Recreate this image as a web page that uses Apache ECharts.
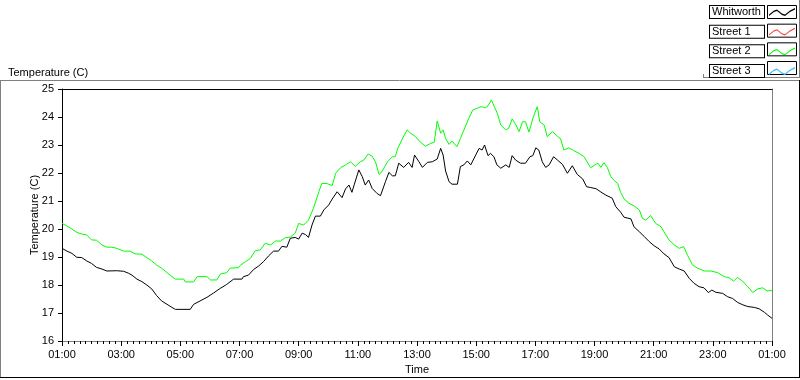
<!DOCTYPE html>
<html>
<head>
<meta charset="utf-8">
<script src="https://cdn.jsdelivr.net/npm/echarts@6/dist/echarts.min.js"></script>
<style>
html,body{margin:0;padding:0;background:#fff;}
#chart{width:800px;height:380px;}
</style>
</head>
<body>
<div id="chart"></div>
<script>
// Minutes since 01:00 and temperatures (C)
var whitworthTimes = [0,10,20,30,40,50,60,70,81,91,111,125,135,142,152,162,172,182,192,202,213,223,230,260,267,280,294,307,321,334,348,365,368,378,389,399,409,419,429,439,446,456,463,473,480,487,494,500,507,514,524,531,541,548,558,568,575,582,588,593,602,609,615,622,629,639,646,656,663,670,676,683,693,703,710,715,724,731,741,751,761,768,773,778,785,791,802,808,815,822,829,833,839,846,852,857,864,869,876,882,890,900,907,913,920,930,940,949,955,961,967,974,981,988,997,1005,1015,1025,1035,1045,1056,1064,1072,1083,1093,1103,1116,1123,1133,1140,1154,1160,1171,1181,1191,1201,1211,1221,1231,1242,1252,1262,1272,1282,1292,1302,1311,1318,1326,1340,1350,1360,1370,1381,1391,1404,1414,1425,1431,1440];
var whitworthTemps = [19.31,19.21,19.13,18.99,18.98,18.86,18.77,18.63,18.57,18.50,18.51,18.49,18.42,18.35,18.21,18.12,18.00,17.86,17.62,17.43,17.31,17.20,17.13,17.13,17.31,17.43,17.56,17.71,17.88,18.02,18.21,18.21,18.30,18.35,18.56,18.68,18.84,19.04,19.21,19.21,19.38,19.35,19.67,19.70,19.64,19.85,19.80,19.70,20.14,20.46,20.46,20.68,20.86,21.07,21.33,21.12,21.43,21.57,21.31,21.60,22.11,21.87,21.57,21.75,21.45,21.27,21.19,21.69,22.02,21.90,21.90,22.35,22.20,22.38,22.20,22.64,22.40,22.20,22.38,22.40,22.50,22.88,22.64,22.07,21.69,21.60,21.60,22.23,22.29,22.43,22.29,22.23,22.64,22.88,22.82,23.00,22.62,22.70,22.58,22.29,22.17,22.29,22.20,22.62,22.46,22.35,22.35,22.58,22.62,22.90,22.82,22.40,22.20,22.29,22.58,22.46,22.31,21.99,22.26,21.95,21.79,21.51,21.48,21.44,21.32,21.21,21.10,20.80,20.60,20.42,20.36,20.08,19.90,19.73,19.55,19.40,19.29,19.11,18.98,18.65,18.57,18.50,18.24,18.06,17.94,17.90,17.73,17.82,17.74,17.70,17.58,17.52,17.38,17.29,17.23,17.20,17.15,17.02,16.93,16.81];

var street1Times = [];
var street1Temps = [];

var street2Times = [0,10,20,30,40,50,60,70,81,91,101,111,125,138,148,162,172,182,192,202,213,223,230,247,250,267,274,294,301,314,321,334,341,358,362,372,382,392,402,412,423,433,443,453,463,473,480,490,500,510,521,527,538,548,555,565,575,585,595,605,612,621,629,636,643,649,660,670,676,681,690,700,707,717,727,737,747,755,761,768,773,778,785,791,801,808,816,825,833,842,850,859,864,871,876,883,890,900,906,913,920,927,934,940,947,956,964,969,978,984,995,1005,1011,1018,1028,1038,1049,1059,1072,1081,1087,1093,1099,1106,1113,1120,1127,1133,1140,1150,1160,1171,1177,1184,1194,1204,1215,1221,1231,1242,1252,1261,1269,1279,1289,1303,1316,1330,1343,1353,1362,1370,1380,1391,1401,1411,1421,1430,1440];
var street2Temps = [20.20,20.11,20.00,19.88,19.82,19.79,19.61,19.60,19.43,19.35,19.35,19.31,19.21,19.21,19.11,19.10,18.98,18.86,18.71,18.60,18.44,18.30,18.21,18.21,18.11,18.11,18.30,18.30,18.18,18.18,18.39,18.44,18.60,18.62,18.71,18.83,18.95,19.23,19.25,19.49,19.43,19.57,19.57,19.69,19.71,19.85,20.20,20.14,20.32,20.74,21.33,21.63,21.62,21.55,21.99,22.19,22.29,22.40,22.24,22.40,22.46,22.68,22.60,22.39,21.95,22.05,22.40,22.58,22.58,22.88,23.21,23.54,23.42,23.30,23.10,22.96,23.05,23.10,23.86,23.42,23.54,23.23,23.02,23.14,22.94,23.23,23.57,23.95,24.25,24.31,24.37,24.33,24.40,24.61,24.40,24.13,23.71,23.54,23.60,23.93,23.74,23.48,23.83,23.83,23.46,24.01,24.37,23.83,23.71,23.30,23.48,23.30,23.23,22.82,22.90,22.80,22.70,22.58,22.19,22.29,22.35,22.20,22.37,22.20,21.87,21.73,21.63,21.31,21.07,20.92,20.83,20.68,20.38,20.32,20.48,20.20,20.08,19.90,19.61,19.43,19.31,19.37,19.05,18.71,18.60,18.50,18.50,18.44,18.30,18.26,18.14,18.27,18.14,17.94,17.73,17.86,17.90,17.79,17.80];

var street3Times = [];
var street3Temps = [];

var seriesNames = ['Whitworth', 'Street 1', 'Street 2', 'Street 3'];
var seriesColors = ['#000000', '#ff4040', '#00ff00', '#40c0ff'];
var xTickLabels = ['01:00','03:00','05:00','07:00','09:00','11:00','13:00','15:00','17:00','19:00','21:00','23:00','01:00'];

function pairs(ts, vs) { return ts.map(function (t, i) { return [t, vs[i]]; }); }
var seriesData = [
  pairs(whitworthTimes, whitworthTemps),
  pairs(street1Times, street1Temps),
  pairs(street2Times, street2Temps),
  pairs(street3Times, street3Temps)
];

var FONT = 'Liberation Sans';
var zig = 'path://M0,7 L5,3 L8,2 L13,6 L16,7 L21,3 L26,0.5 L26,1.8 L21,4.3 L16,8.3 L13,7.3 L8,3.3 L5,4.3 L0,8.3 Z';

var chart = echarts.init(document.getElementById('chart'), null, {renderer: 'canvas'});

var gfx = [];
function line(x1, y1, x2, y2, c) {
  gfx.push({type: 'line', z: 0, silent: true, shape: {x1: x1, y1: y1, x2: x2, y2: y2}, style: {stroke: c, lineWidth: 1}});
}
line(0, 80.5, 799, 80.5, '#808080');
line(0.5, 80, 0.5, 378, '#808080');
line(0, 377.5, 800, 377.5, '#000000');
line(799.5, 80, 799.5, 378, '#000000');
line(703, 77.5, 800, 77.5, '#808080');
line(703.5, 74, 703.5, 78, '#808080');
line(799.5, 0, 799.5, 78, '#808080');
for (var i = 0; i < 4; i++) {
  gfx.push({type: 'rect', z: 0, silent: true,
    shape: {x: 767.5, y: 5.5 + i * 18.67, width: 29, height: 13},
    style: {fill: '#fff', stroke: '#000', lineWidth: 1}});
}

var option = {
  animation: false,
  backgroundColor: '#ffffff',
  textStyle: {fontFamily: FONT},
  title: {
    text: 'Temperature (C)', left: 3, top: 62,
    textStyle: {fontSize: 11, fontWeight: 'normal', color: '#000', fontFamily: FONT}
  },
  graphic: gfx,
  legend: {
    z: 10,
    orient: 'vertical',
    align: 'right',
    right: 5,
    top: 5,
    itemWidth: 26,
    itemHeight: 8,
    itemGap: 5.67,
    padding: 0,
    data: seriesNames.map(function (n) { return {name: n, icon: zig}; }),
    formatter: function (n) { return '{a|' + n + '}'; },
    textStyle: {
      fontFamily: FONT, fontSize: 11, color: '#000',
      rich: {a: {fontFamily: FONT, fontSize: 11, color: '#000', width: 50, height: 12, lineHeight: 12,
        padding: [0, 2, 0, 2], align: 'left', backgroundColor: '#fff', borderColor: '#000', borderWidth: 1}}
    }
  },
  grid: {left: 62, top: 89, right: 28, bottom: 39},
  xAxis: [{
    type: 'value', min: 0, max: 1440, interval: 120,
    name: 'Time', nameLocation: 'middle', nameGap: 23, nameMoveOverlap: false,
    nameTextStyle: {fontSize: 11, color: '#000', fontFamily: FONT},
    axisLine: {show: true, onZero: false, lineStyle: {color: '#808080', width: 1}},
    axisTick: {show: true, length: 5, lineStyle: {color: '#000'}},
    minorTick: {show: true, splitNumber: 10, length: 3, lineStyle: {color: '#000'}},
    splitLine: {show: false},
    axisLabel: {fontSize: 11, color: '#000', margin: 8, fontFamily: FONT,
      formatter: function (v) { return xTickLabels[Math.round(v / 120)]; }}
  }, {
    type: 'value', position: 'top', min: 0, max: 1440,
    axisLine: {show: true, onZero: false, lineStyle: {color: '#000'}},
    axisTick: {show: false}, axisLabel: {show: false}, splitLine: {show: false}
  }],
  yAxis: [{
    type: 'value', min: 16, max: 25, interval: 1,
    name: 'Temperature (C)', nameLocation: 'middle', nameGap: 22, nameRotate: 90, nameMoveOverlap: false,
    nameTextStyle: {fontSize: 11, color: '#000', fontFamily: FONT},
    axisLine: {show: true, onZero: false, lineStyle: {color: '#000'}},
    axisTick: {show: true, length: 4, lineStyle: {color: '#000'}},
    splitLine: {show: false},
    axisLabel: {fontSize: 11, color: '#000', margin: 8, fontFamily: FONT}
  }, {
    type: 'value', position: 'right', min: 16, max: 25,
    axisLine: {show: true, onZero: false, lineStyle: {color: '#808080'}},
    axisTick: {show: false}, axisLabel: {show: false}, splitLine: {show: false}
  }],
  series: seriesNames.map(function (n, i) {
    return {
      name: n, type: 'line', data: seriesData[i], showSymbol: false, symbol: 'none',
      xAxisIndex: 0, yAxisIndex: 0,
      color: seriesColors[i],
      lineStyle: {width: 1, color: seriesColors[i]},
      z: 3
    };
  })
};
chart.setOption(option);
</script>
</body>
</html>
